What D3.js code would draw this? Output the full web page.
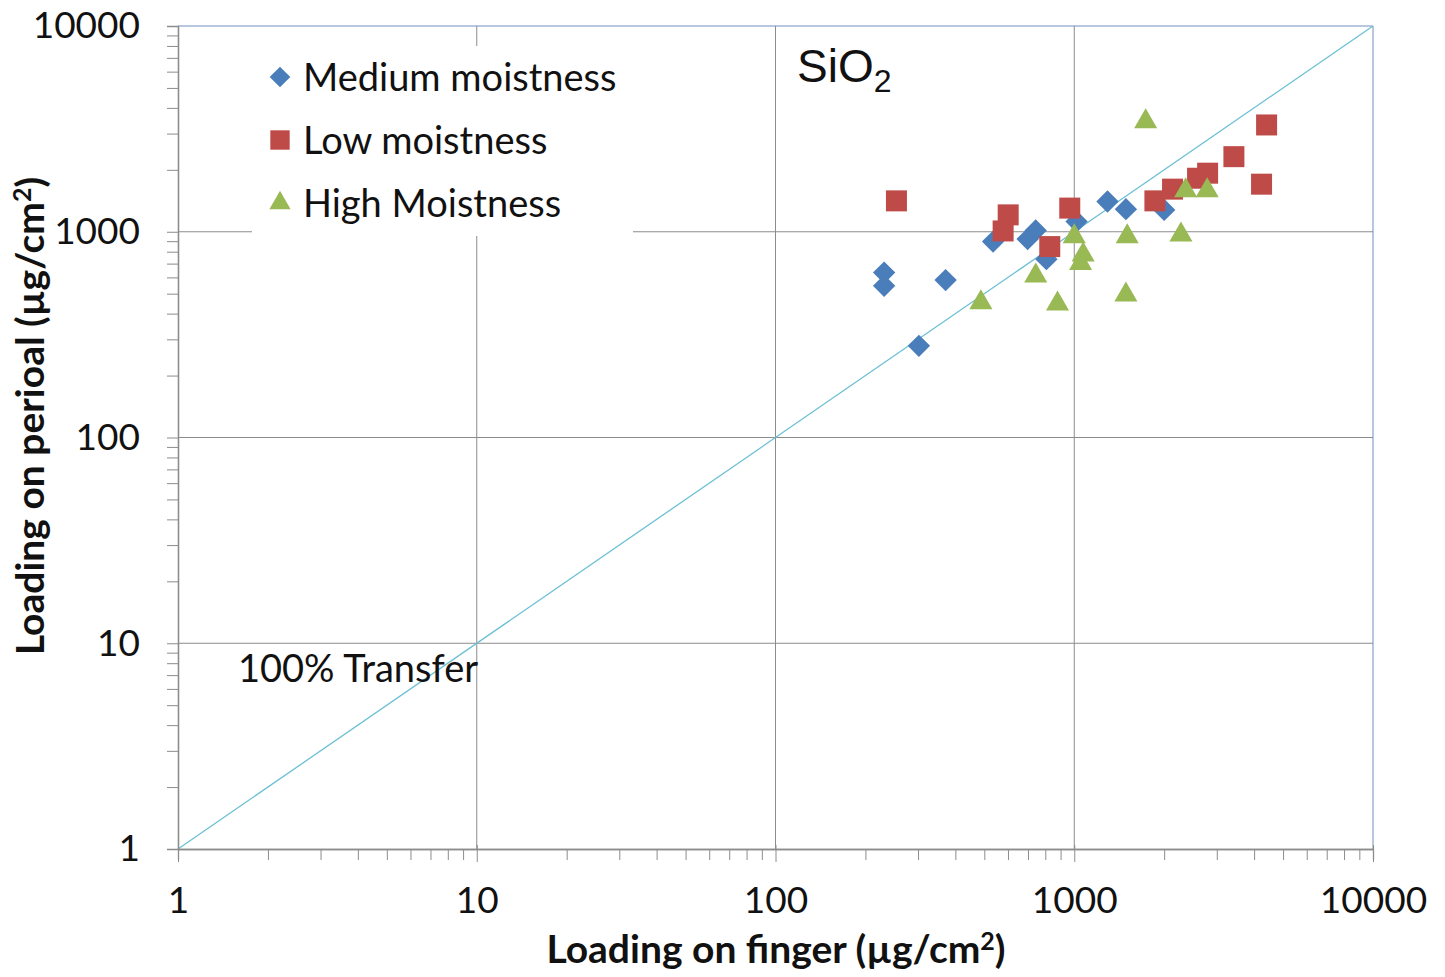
<!DOCTYPE html>
<html>
<head>
<meta charset="utf-8">
<script src="https://cdn.jsdelivr.net/npm/d3@7"></script>
<style>
  body { margin: 0; background: #fff; }
  text { font-family: Lato, "Open Sans", sans-serif; fill: #111; }
</style>
</head>
<body>
<div id="chart"></div>
<script>
// data (µg/cm²)
const mediumX = [231, 231, 371, 302, 535, 698, 743, 807, 1018, 1292, 1489, 2000];
const mediumY = [633, 546, 582, 279, 896, 921, 1014, 736, 1121, 1403, 1288, 1277];
const lowX = [254, 601, 578, 828, 966, 1862, 2133, 2587, 2795, 3423, 4236, 4404];
const lowY = [1413, 1208, 1009, 847, 1303, 1413, 1611, 1820, 1926, 2317, 1703, 3304];
const highX = [1734, 2360, 2786, 1000, 1504, 2276, 1071, 1050, 743, 487, 879, 1489];
const highY = [3430, 1585, 1585, 948, 948, 966, 773, 703, 611, 453, 446, 494];
const seriesNames = ['Medium moistness', 'Low moistness', 'High Moistness'];
const transferLine = [1, 10000];
const majorTicks = [1, 10, 100, 1000, 10000];

const width = 1445, height = 977;
const margin = { top: 26, right: 72, bottom: 128, left: 178 };
const innerW = width - margin.left - margin.right;
const innerH = height - margin.top - margin.bottom;

const svg = d3.select('#chart')
  .append('svg')
  .attr('width', width)
  .attr('height', height);

const g = svg.append('g')
  .attr('transform', `translate(${margin.left},${margin.top})`);

const x = d3.scaleLog().domain([1, 10000]).range([0, innerW]);
const y = d3.scaleLog().domain([1, 10000]).range([innerH, 0]);

// gridlines
g.append('g')
  .selectAll('line')
  .data(majorTicks.slice(1, -1))
  .join('line')
  .attr('x1', d => x(d)).attr('x2', d => x(d))
  .attr('y1', 0).attr('y2', innerH)
  .attr('stroke', '#8c8c8c');
g.append('g')
  .selectAll('line')
  .data(majorTicks.slice(1, -1))
  .join('line')
  .attr('y1', d => y(d)).attr('y2', d => y(d))
  .attr('x1', 0).attr('x2', innerW)
  .attr('stroke', '#8c8c8c');

// top / right border
g.append('path')
  .attr('d', `M0,0H${innerW}V${innerH}`)
  .attr('fill', 'none')
  .attr('stroke', '#6f8fbf');

// 100% transfer line
g.append('line')
  .attr('x1', x(transferLine[0])).attr('y1', y(transferLine[0]))
  .attr('x2', x(transferLine[1])).attr('y2', y(transferLine[1]))
  .attr('stroke', '#6cc0d4')
  .attr('stroke-width', 1.3);

// axes: minor ticks then major ticks
const minorX = x.ticks().filter(d => !majorTicks.includes(d));
const minorY = y.ticks().filter(d => !majorTicks.includes(d));

const xMinor = g.append('g')
  .attr('transform', `translate(0,${innerH})`)
  .call(d3.axisBottom(x).tickValues(minorX).tickSize(11).tickFormat(''));
const xMajor = g.append('g')
  .attr('transform', `translate(0,${innerH})`)
  .call(d3.axisBottom(x).tickValues(majorTicks).tickSize(13).tickSizeOuter(0).tickFormat(d3.format('d')));
const yMinor = g.append('g')
  .call(d3.axisLeft(y).tickValues(minorY).tickSize(11).tickFormat(''));
const yMajor = g.append('g')
  .call(d3.axisLeft(y).tickValues(majorTicks).tickSize(11).tickSizeOuter(0).tickFormat(d3.format('d')));

[xMinor, xMajor, yMinor, yMajor].forEach(a => {
  a.select('.domain').attr('stroke', '#8c8c8c').attr('stroke-width', 1.3);
  a.selectAll('.tick line').attr('stroke', '#8c8c8c');
});
xMajor.selectAll('.tick line').attr('y1', -4);
xMajor.selectAll('.tick text')
  .attr('y', 38)
  .attr('dy', '0.71em')
  .style('font-size', '37px')
  .style('font-family', 'Lato, sans-serif')
  .attr('fill', '#111');
yMajor.selectAll('.tick text')
  .attr('x', -38)
  .style('font-size', '37px')
  .style('font-family', 'Lato, sans-serif')
  .attr('fill', '#111');

// axis titles
svg.append('text')
  .attr('x', 776)
  .attr('y', 963)
  .attr('text-anchor', 'middle')
  .style('font-size', '39px')
  .style('font-weight', 'bold')
  .html('Loading on finger (µg/cm<tspan dy="-13" font-size="25px">2</tspan><tspan dy="13">)</tspan>');

svg.append('text')
  .attr('transform', 'translate(44,416) rotate(-90)')
  .attr('text-anchor', 'middle')
  .style('font-size', '39px')
  .style('font-weight', 'bold')
  .html('Loading on perioal (µg/cm<tspan dy="-13" font-size="25px">2</tspan><tspan dy="13">)</tspan>');

// series markers
const series = [
  { name: seriesNames[0], xs: mediumX, ys: mediumY, color: '#4a7ebb', shape: d3.symbolSquare, size: 250, rot: 45 },
  { name: seriesNames[1], xs: lowX, ys: lowY, color: '#be4b48', shape: d3.symbolSquare, size: 441, rot: 0 },
  { name: seriesNames[2], xs: highX, ys: highY, color: '#98b954', shape: d3.symbolTriangle, size: 230, rot: 0 },
];

series.forEach(s => {
  g.append('g')
    .selectAll('path')
    .data(s.xs.map((v, i) => [v, s.ys[i]]))
    .join('path')
    .attr('d', d3.symbol().type(s.shape).size(s.size))
    .attr('transform', d => `translate(${x(d[0])},${y(d[1])}) rotate(${s.rot})`)
    .attr('fill', s.color);
});

// legend
const legend = svg.append('g');
legend.append('rect')
  .attr('x', 252).attr('y', 46)
  .attr('width', 381).attr('height', 190)
  .attr('fill', '#fff');
series.forEach((s, i) => {
  const cy = 77 + i * 63;
  legend.append('path')
    .attr('d', d3.symbol().type(s.shape).size(s.size * 0.85))
    .attr('transform', `translate(280,${cy}) rotate(${s.rot})`)
    .attr('fill', s.color);
  legend.append('text')
    .attr('x', 303)
    .attr('y', cy)
    .attr('dy', '0.36em')
    .style('font-size', '38px')
    .text(s.name);
});

// annotations
svg.append('text')
  .attr('x', 797)
  .attr('y', 82)
  .style('font-family', '"Liberation Sans", Arial, sans-serif')
  .style('font-size', '46px')
  .html('SiO<tspan dy="10" font-size="32px">2</tspan>');

svg.append('text')
  .attr('x', 238)
  .attr('y', 682)
  .style('font-size', '38px')
  .text('100% Transfer');
</script>
</body>
</html>
